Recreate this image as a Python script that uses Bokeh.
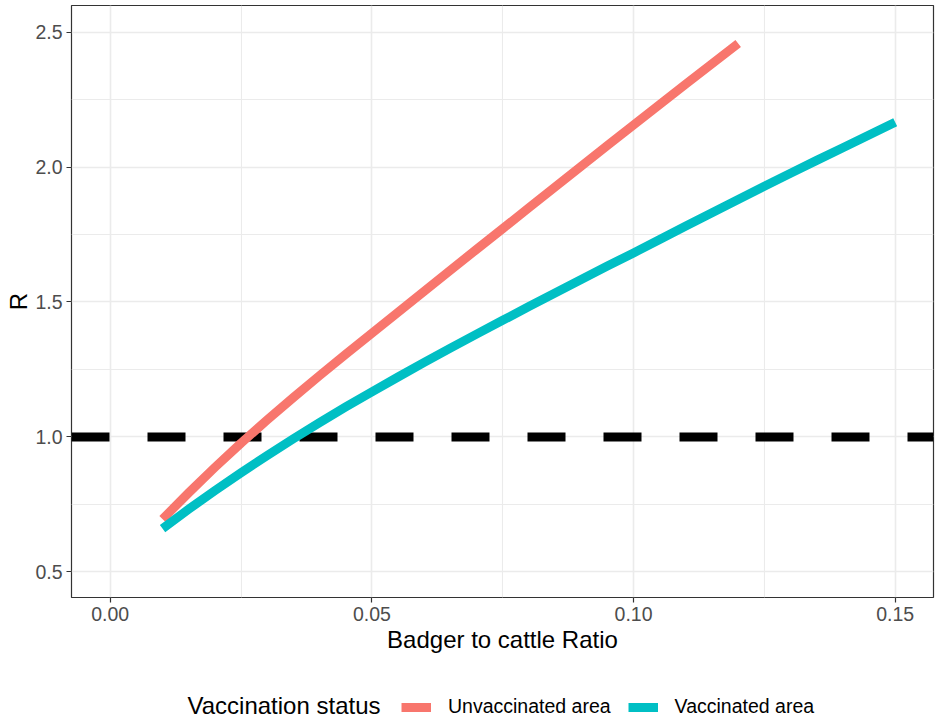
from bokeh.plotting import figure
from bokeh.layouts import column
from bokeh.models import (Range1d, FixedTicker, Span, Legend, LegendItem, Label)
from bokeh.embed import file_html
from bokeh.resources import INLINE

# ---- data ----
ratio_unvacc = [0.010, 0.015, 0.020, 0.025, 0.030, 0.035, 0.040, 0.045, 0.050,
                0.055, 0.060, 0.065, 0.070, 0.075, 0.080, 0.085, 0.090, 0.095,
                0.100, 0.105, 0.110, 0.115, 0.120]
R_unvacc = [0.695, 0.793, 0.887, 0.977, 1.063, 1.146, 1.227, 1.306, 1.384,
            1.462, 1.540, 1.618, 1.695, 1.772, 1.849, 1.926, 2.003, 2.080,
            2.156, 2.232, 2.308, 2.383, 2.458]

ratio_vacc = [0.010, 0.015, 0.020, 0.025, 0.030, 0.035, 0.040, 0.045, 0.050,
              0.055, 0.060, 0.065, 0.070, 0.075, 0.080, 0.085, 0.090, 0.095,
              0.100, 0.105, 0.110, 0.115, 0.120, 0.125, 0.130, 0.135, 0.140,
              0.145, 0.150]
R_vacc = [0.660, 0.732, 0.801, 0.867, 0.931, 0.993, 1.053, 1.111, 1.167,
          1.222, 1.276, 1.329, 1.381, 1.432, 1.483, 1.533, 1.583, 1.633,
          1.682, 1.732, 1.782, 1.831, 1.880, 1.929, 1.977, 2.025, 2.072,
          2.119, 2.166]

threshold_R = 1.0

x_ticks = [0.0, 0.05, 0.10, 0.15]
x_tick_labels = ["0.00", "0.05", "0.10", "0.15"]
x_minor = [0.025, 0.075, 0.125]
y_ticks = [0.5, 1.0, 1.5, 2.0, 2.5]
y_tick_labels = ["0.5", "1.0", "1.5", "2.0", "2.5"]
y_minor = [0.75, 1.25, 1.75, 2.25]

series_names = ["Unvaccinated area", "Vaccinated area"]
series_colors = ["#F8766D", "#00BFC4"]
legend_title = "Vaccination status"
x_title = "Badger to cattle Ratio"
y_title = "R"

FONT = "Liberation Sans"
W = 936
H_MAIN = 672
H_LEG = 48
FRAME_L = 71
FRAME_R = 3

p = figure(width=W, height=H_MAIN, output_backend="svg", toolbar_location=None,
           x_range=Range1d(-0.0074, 0.15732), y_range=Range1d(0.4047, 2.599),
           min_border_left=FRAME_L, min_border_right=FRAME_R, min_border_top=5,
           min_border_bottom=H_MAIN - 597)
p.background_fill_color = "white"
p.border_fill_color = "white"
p.outline_line_color = "#333333"
p.outline_line_width = 1.2

p.xaxis.ticker = FixedTicker(ticks=x_ticks, minor_ticks=x_minor)
p.yaxis.ticker = FixedTicker(ticks=y_ticks, minor_ticks=y_minor)
p.xaxis.major_label_overrides = dict(zip(x_ticks, x_tick_labels))
p.yaxis.major_label_overrides = dict(zip(y_ticks, y_tick_labels))

for ax in (p.xaxis[0], p.yaxis[0]):
    ax.axis_line_color = None
    ax.major_tick_line_color = "#333333"
    ax.major_tick_line_width = 1.2
    ax.major_tick_in = 0
    ax.major_tick_out = 5
    ax.minor_tick_line_color = None
    ax.major_label_text_font = FONT
    ax.major_label_text_font_size = "19.5px"
    ax.major_label_text_color = "#4D4D4D"
    ax.axis_label_text_font = FONT
    ax.axis_label_text_font_size = "24px"
    ax.axis_label_text_font_style = "normal"
    ax.axis_label_text_color = "black"

p.xaxis.axis_label = x_title
p.yaxis.axis_label = y_title
p.xaxis.major_label_standoff = 4
p.xaxis.axis_label_standoff = 2
p.yaxis.major_label_standoff = 4
p.yaxis.axis_label_standoff = 0

for g in (p.xgrid[0], p.ygrid[0]):
    g.grid_line_color = "#EBEBEB"
    g.grid_line_width = 1.6
    g.minor_grid_line_color = "#EBEBEB"
    g.minor_grid_line_width = 1.1

hline = Span(location=threshold_R, dimension="width", line_color="black",
             line_width=9, line_dash="38 38", level="underlay")
p.add_layout(hline)

r1 = p.line(ratio_unvacc, R_unvacc, line_color=series_colors[0], line_width=9,
            line_join="round")
r2 = p.line(ratio_vacc, R_vacc, line_color=series_colors[1], line_width=9,
            line_join="round")

# ---- legend strip (own small figure so nothing is clipped) ----
# its ranges lie away from the data, so the key renderers draw only in the legend
pl = figure(width=W, height=H_LEG, output_backend="svg", toolbar_location=None,
            x_range=Range1d(1, 2), y_range=Range1d(10, 11),
            x_axis_type=None, y_axis_type=None,
            min_border_left=FRAME_L, min_border_right=FRAME_R,
            min_border_top=0, min_border_bottom=0,
            outline_line_color=None)
pl.background_fill_color = "white"
pl.border_fill_color = "white"
pl.grid.visible = False

k1 = pl.line(ratio_unvacc, R_unvacc, line_color=series_colors[0], line_width=9)
k2 = pl.line(ratio_vacc, R_vacc, line_color=series_colors[1], line_width=9)

legend = Legend(items=[LegendItem(label=series_names[0], renderers=[k1]),
                       LegendItem(label=series_names[1], renderers=[k2])],
                orientation="horizontal", location=(401 - FRAME_L, 2),
                padding=0, margin=0, spacing=17, label_standoff=17,
                glyph_width=30, glyph_height=20, label_height=20,
                label_text_font=FONT, label_text_font_size="19.5px",
                label_text_color="black",
                background_fill_alpha=0, border_line_alpha=0)
pl.add_layout(legend)

title_lbl = Label(x=187 - FRAME_L, y=15, x_units="screen", y_units="screen",
                  text=legend_title, text_font=FONT, text_font_size="24px",
                  text_color="black", text_align="left", text_baseline="middle")
pl.add_layout(title_lbl)

layout = column(p, pl, spacing=0)
open("out.html", "w").write(file_html(layout, INLINE))
